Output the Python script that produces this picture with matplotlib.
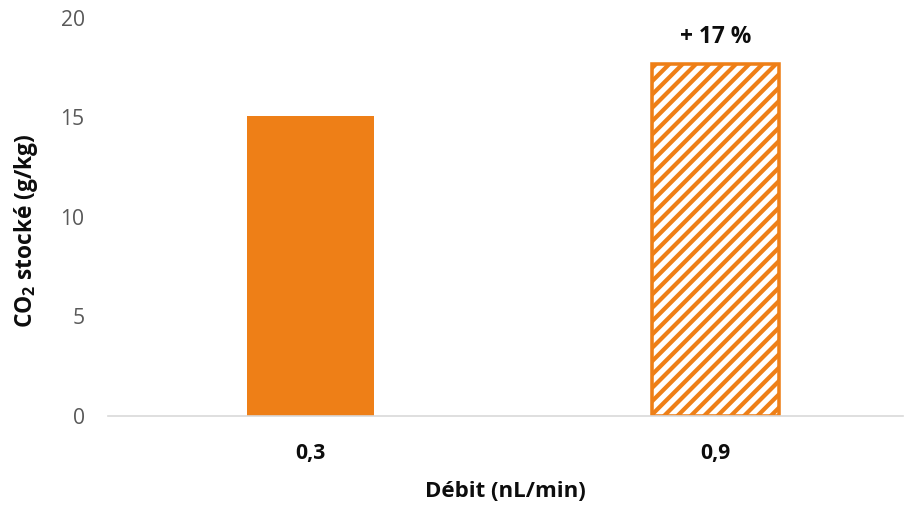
import matplotlib
matplotlib.use("Agg")
import matplotlib.pyplot as plt

# --- Data ---
categories = ["0,3", "0,9"]
values = [15.1, 17.7]
hatches = ["", "//"]
annotation = "+ 17 %"

ORANGE = "#EE7F17"
GREY_TXT = "#595959"
DARK = "#0d0d0d"

plt.rcParams.update({
    "font.family": ["Open Sans", "DejaVu Sans"],
    "mathtext.fontset": "custom",
    "mathtext.rm": "Open Sans",
    "mathtext.bf": "Open Sans:bold",
    "hatch.linewidth": 3.8,
    "hatch.color": ORANGE,
})

DPI = 80
FS = 19
fig = plt.figure(figsize=(904 / DPI, 506 / DPI), dpi=DPI)
ax = fig.add_axes([108 / 904, (506 - 416) / 506, 795 / 904, 398 / 506])

x = range(len(categories))
for i, (v, h) in enumerate(zip(values, hatches)):
    if h:
        ax.bar(i, v, width=0.315, facecolor="white", edgecolor=ORANGE,
               hatch=h, linewidth=3.2, zorder=3)
    else:
        ax.bar(i, v, width=0.315, color=ORANGE, linewidth=0, zorder=3)

ax.text(1, values[1] + 1.05, annotation, ha="center", va="baseline",
        fontsize=20.5, fontweight="bold", color=DARK)

ax.set_xlim(-0.5, -0.5 + 795 / 405)
ax.set_ylim(0, 20)
ax.set_yticks([0, 5, 10, 15, 20])
ax.set_xticks(list(x))
ax.set_xticklabels(categories, fontsize=FS, fontweight="bold", color=DARK)
ax.tick_params(axis="y", length=0, pad=21, labelsize=FS, labelcolor=GREY_TXT)
ax.tick_params(axis="x", length=0, pad=24)

for s in ["top", "right", "left"]:
    ax.spines[s].set_visible(False)
ax.spines["bottom"].set_color("#D9D9D9")
ax.spines["bottom"].set_linewidth(1.5)
ax.spines["bottom"].set_zorder(4)

ax.set_xlabel("Débit (nL/min)", fontsize=20, fontweight="bold",
              color=DARK, labelpad=16)
ax.set_ylabel(r"CO$_\mathbf{2}$ stocké (g/kg)", fontsize=20.5, fontweight="bold",
              color=DARK)
ax.yaxis.set_label_coords(-68 / 795, 0.465)

fig.savefig("out.png", dpi=DPI)
